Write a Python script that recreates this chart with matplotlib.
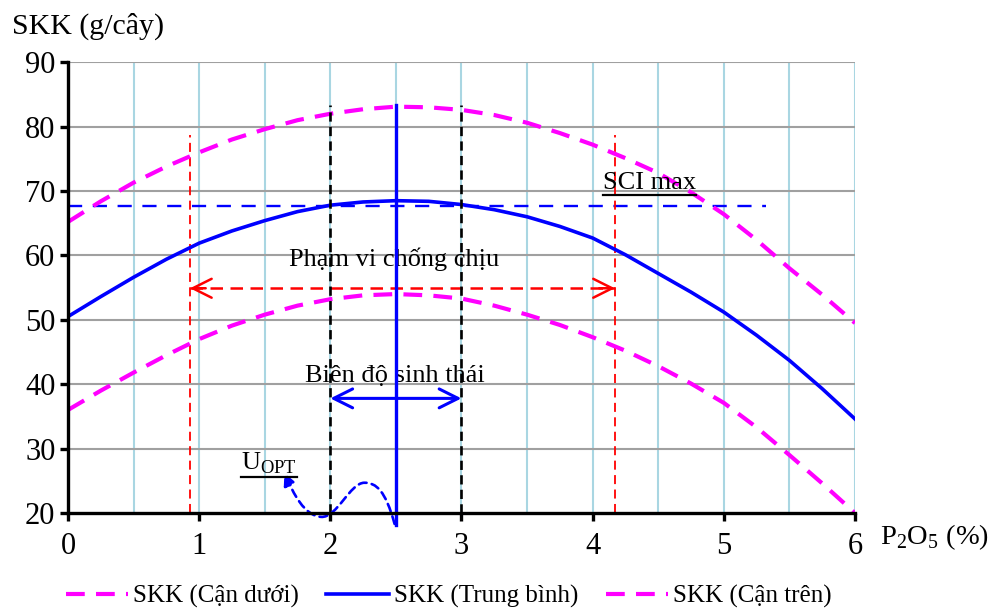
import matplotlib.pyplot as plt
from matplotlib.path import Path
from matplotlib.patches import FancyArrowPatch
from matplotlib.lines import Line2D

plt.rcParams['font.family'] = ['Liberation Serif', 'DejaVu Serif']
plt.rcParams['mathtext.fontset'] = 'custom'
plt.rcParams['mathtext.rm'] = 'Liberation Serif'

# dữ liệu
x_vals = [0, 0.25, 0.5, 0.75, 1, 1.25, 1.5, 1.75, 2, 2.25, 2.5, 2.75, 3,
          3.25, 3.5, 3.75, 4, 4.25, 4.5, 4.75, 5, 5.25, 5.5, 5.75, 6]
skk_mid = [50.5, 53.6, 56.6, 59.4, 61.9, 63.8, 65.4, 66.8, 67.8, 68.3, 68.5, 68.4, 67.9,
           67.1, 66.0, 64.5, 62.7, 60.1, 57.2, 54.3, 51.2, 47.6, 43.7, 39.3, 34.6]
skk_up = [65.2, 68.4, 71.3, 73.8, 76.0, 78.0, 79.6, 81.0, 82.0, 82.7, 83.1, 83.0, 82.6,
          81.8, 80.6, 79.0, 77.2, 75.1, 72.8, 69.8, 66.4, 62.4, 58.0, 53.9, 49.5]
skk_low = [36.0, 39.0, 41.8, 44.5, 47.0, 49.1, 50.8, 52.2, 53.2, 53.8, 54.0, 53.8, 53.3,
           52.2, 50.8, 49.2, 47.3, 45.2, 42.8, 40.1, 37.1, 33.3, 29.0, 24.6, 20.0]

sci_max = 67.7
sci_max_end = 5.32
tol_left, tol_right = 0.93, 4.17
tol_top = 78.7
tol_arrow_y = 54.9
eco_left, eco_right = 2.0, 3.0
eco_top = 83.3
opt_x = 2.5
opt_bottom = 18.2
eco_arrow_y = 37.8
# đường cong mũi tên U_OPT: điểm đầu, đỉnh, đáy, đầu mũi tên
u_curve = [(2.49, 18.3), (2.42, 23.5), (2.35, 24.7), (2.26, 24.7),
           (2.15, 24.7), (2.05, 19.2), (1.93, 19.4),
           (1.80, 19.6), (1.72, 23.0), (1.65, 26.2)]

fig = plt.figure(figsize=(9.95, 6.1), dpi=100)
ax = fig.add_axes([0.0683, 0.159, 0.7910, 0.739])
ax.set_xlim(0, 6)
ax.set_ylim(20, 90)

# lưới
for gx in [i * 0.5 for i in range(1, 13)]:
    ax.axvline(gx, color='#a9d6e2', lw=1.5, zorder=0)
for gy in range(30, 100, 10):
    ax.axhline(gy, color='#a0a0a0', lw=1.5, zorder=0)

ax.plot(x_vals, skk_low, color='#ff00ff', lw=3.0, dashes=(4.5, 2.7), label='SKK (Cận dưới)', zorder=3)
ax.plot(x_vals, skk_mid, color='#0000ff', lw=2.6, label='SKK (Trung bình)', zorder=3)
ax.plot(x_vals, skk_up, color='#ff00ff', lw=3.0, dashes=(4.5, 2.7), label='SKK (Cận trên)', zorder=3)

# SCI max
ax.plot([0, sci_max_end], [sci_max, sci_max], color='#0000ff', lw=1.7, dashes=(6, 4.5), zorder=2)

# phạm vi chống chịu
for xv in (tol_left, tol_right):
    ax.plot([xv, xv], [20, tol_top], color='#ff0000', lw=1.3, dashes=(5, 3), zorder=2)
ax.plot([tol_left, tol_right], [tol_arrow_y, tol_arrow_y], color='#ff0000', lw=1.8, dashes=(5, 3), zorder=2)
for tip, tail in ((tol_left, tol_left + 0.12), (tol_right, tol_right - 0.12)):
    ax.annotate('', xy=(tip, tol_arrow_y), xytext=(tail, tol_arrow_y),
                arrowprops=dict(arrowstyle='->', color='#ff0000', lw=1.8,
                                mutation_scale=34, shrinkA=0, shrinkB=0))
ax.text(2.49, 58.4, 'Phạm vi chống chịu', ha='center', va='baseline', fontsize=19)

# biên độ sinh thái
for xv in (eco_left, eco_right):
    ax.plot([xv, xv], [20, eco_top], color='black', lw=1.9, dashes=(3.5, 2), zorder=4, clip_on=False)
ax.plot([opt_x, opt_x], [opt_bottom, eco_top], color='#0000ff', lw=2.4, zorder=4, clip_on=False)
ax.annotate('', xy=(eco_left, eco_arrow_y), xytext=(eco_right, eco_arrow_y),
            arrowprops=dict(arrowstyle='<->', color='#0000ff', lw=2.2,
                            mutation_scale=34, shrinkA=0, shrinkB=0))
ax.text(2.49, 40.4, 'Biên độ sinh thái', ha='center', va='baseline', fontsize=19)

# mũi tên U_OPT
codes = [Path.MOVETO] + [Path.CURVE4] * 9
arr = FancyArrowPatch(path=Path(u_curve, codes), arrowstyle='-|>', color='#0000ff', lw=1.9,
                      linestyle=(0, (3, 2)), mutation_scale=18, clip_on=False, zorder=5)
ax.add_patch(arr)

t_opt = ax.text(1.32, 26.8, r'U$_{\mathrm{OPT}}$', ha='left', va='baseline', fontsize=19)
t_sci = ax.text(4.08, 70.3, 'SCI max', ha='left', va='baseline', fontsize=19)

# trục
for s in ('top', 'right'):
    ax.spines[s].set_visible(False)
for s in ('left', 'bottom'):
    ax.spines[s].set_linewidth(2.4)
    ax.spines[s].set_zorder(6)
ax.set_xticks(range(0, 7))
ax.set_yticks(range(20, 100, 10))
ax.tick_params(axis='both', direction='out', length=6, width=2.4, labelsize=22)
ax.tick_params(axis='y', pad=3)
ax.tick_params(axis='x', pad=8)

fig.text(0.012, 0.945, 'SKK (g/cây)', fontsize=21.5, ha='left', va='baseline')
fig.text(0.884, 0.108, r'P$_{\mathrm{2}}$O$_{\mathrm{5}}$ (%)', fontsize=20.5, ha='left', va='baseline')

fig.legend(loc='center', bbox_to_anchor=(0.451, 0.022), ncol=3, frameon=False, fontsize=18,
           handlelength=2.5, handletextpad=0.2, columnspacing=1.1)

# gạch chân chữ
fig.canvas.draw()
for t in (t_opt, t_sci):
    bb = t.get_window_extent()
    yy = bb.y0 - 1
    fig.add_artist(Line2D([bb.x0 / fig.dpi / 9.95, bb.x1 / fig.dpi / 9.95],
                          [yy / fig.dpi / 6.1, yy / fig.dpi / 6.1],
                          transform=fig.transFigure, color='black', lw=1.6))

fig.savefig('out.png', dpi=100)
